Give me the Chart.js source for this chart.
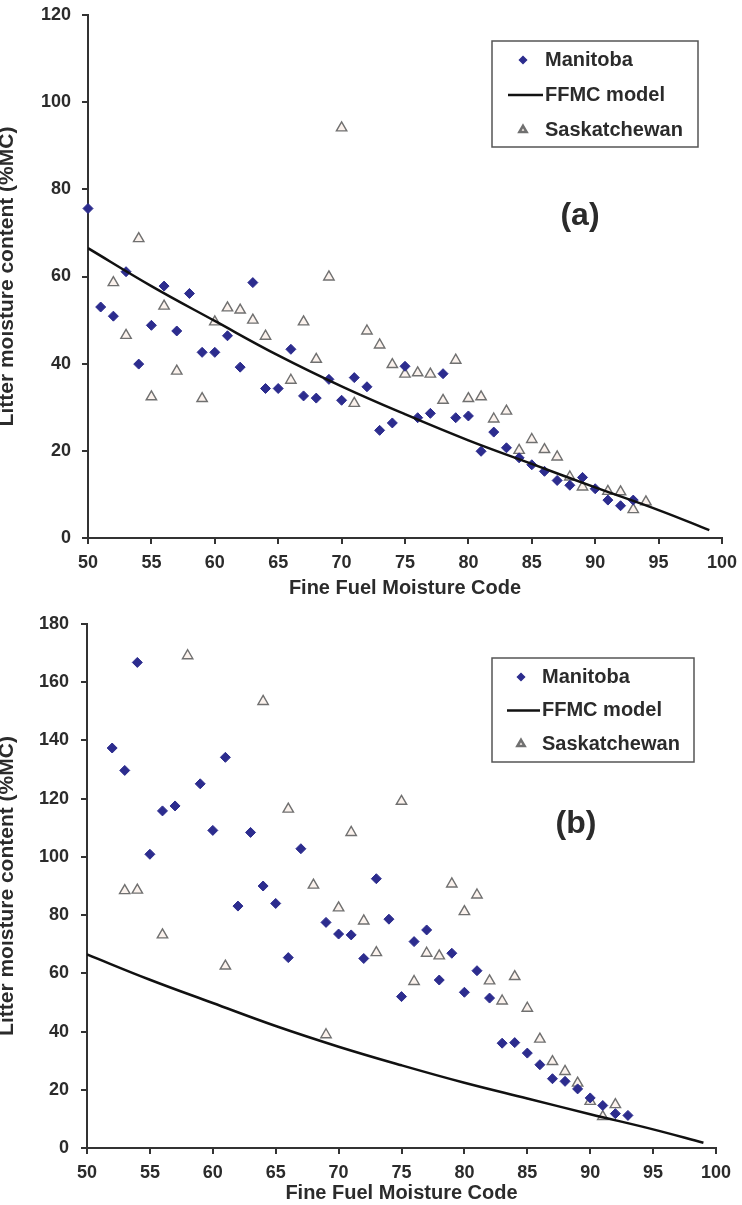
<!DOCTYPE html>
<html>
<head>
<meta charset="utf-8">
<script src="https://cdn.jsdelivr.net/npm/chart.js@4.4.1/dist/chart.umd.min.js"></script>
<style>
  body { margin: 0; background: #fff; }
  .panel { position: absolute; left: 0; width: 742px; }
</style>
</head>
<body>
<div class="panel" style="top:0;height:600px"><canvas id="chartA"></canvas></div>
<div class="panel" style="top:600px;height:605px"><canvas id="chartB"></canvas></div>
<script>
// FFMC model curve
var modelX = [50, 55, 60, 65, 70, 75, 80, 85, 90, 95, 99];
var modelY = [66.5, 57.8, 49.8, 41.9, 34.8, 28.4, 22.4, 17.0, 11.6, 6.4, 1.8];

// panel (a)
var manAx = [50,51,52,53,54,55,56,57,58,59,60,61,62,63,64,65,66,67,68,69,70,71,72,73,74,75,76,77,78,79,80,81,82,83,84,85,86,87,88,89,90,91,92,93];
var manAy = [75.6,53.0,50.9,61.1,39.9,48.8,57.8,47.5,56.1,42.6,42.6,46.4,39.2,58.6,34.3,34.3,43.3,32.6,32.1,36.4,31.6,36.8,34.7,24.7,26.4,39.4,27.6,28.6,37.7,27.6,28.0,19.9,24.3,20.7,18.4,16.8,15.3,13.2,12.1,13.9,11.3,8.7,7.4,8.7];
var sasAx = [52,53,54,55,56,57,59,60,61,62,63,64,66,67,68,69,70,71,72,73,74,75,76,77,78,79,80,81,82,83,84,85,86,87,88,89,91,92,93,94];
var sasAy = [58.6,46.5,68.7,32.4,53.2,38.3,32.0,49.6,52.8,52.3,50.0,46.3,36.2,49.6,41.0,59.9,94.1,30.9,47.5,44.3,39.8,37.6,37.9,37.6,31.6,40.8,32.0,32.4,27.3,29.1,20.1,22.6,20.3,18.6,14.0,11.7,10.7,10.6,6.5,8.3];

// panel (b)
var manBx = [52,53,54,55,56,57,59,60,61,62,63,64,65,66,67,69,70,71,72,73,74,75,76,77,78,79,80,81,82,83,84,85,86,87,88,89,90,91,92,93];
var manBy = [137.4,129.7,166.8,100.9,115.8,117.5,125.1,109.1,134.2,83.1,108.4,90.0,84.0,65.4,102.8,77.5,73.5,73.2,65.1,92.5,78.6,52.0,70.9,74.9,57.7,66.9,53.5,60.9,51.5,36.0,36.2,32.6,28.6,23.8,22.9,20.3,17.2,14.6,11.8,11.2];
var sasBx = [53,54,56,58,61,64,66,68,69,70,71,72,73,75,76,77,78,79,80,81,82,83,84,85,86,87,88,89,90,91,92];
var sasBy = [88.4,88.6,73.2,169.1,62.5,153.4,116.4,90.3,38.9,82.5,108.4,78.0,67.1,119.1,57.2,66.9,66.0,90.7,81.2,86.9,57.4,50.5,58.9,48.0,37.4,29.7,26.3,22.3,16.0,10.8,14.9];

var FONT = '"Liberation Sans", Arial, sans-serif';
var INK = '#2b2b2b';

function pts(xs, ys) {
  var out = [];
  for (var i = 0; i < xs.length; i++) out.push({ x: xs[i], y: ys[i] });
  return out;
}

// legend box + panel tag drawn inside the plot
var boxLegend = {
  id: 'boxLegend',
  afterDraw: function (chart, args, o) {
    var ctx = chart.ctx;
    ctx.save();
    ctx.strokeStyle = '#555';
    ctx.lineWidth = 1.5;
    ctx.strokeRect(o.x, o.y, o.w, o.h);
    ctx.font = 'bold 20px ' + FONT;
    ctx.fillStyle = INK;
    ctx.textBaseline = 'middle';
    ctx.textAlign = 'left';
    chart.data.datasets.forEach(function (ds, i) {
      var ty = o.y + o.first + i * o.gap;
      if (ds.showLine) {
        ctx.strokeStyle = '#111';
        ctx.lineWidth = 2.5;
        ctx.beginPath();
        ctx.moveTo(o.x + o.lineFrom, ty);
        ctx.lineTo(o.x + o.textX - 2, ty);
        ctx.stroke();
      } else {
        ctx.fillStyle = ds.backgroundColor;
        ctx.strokeStyle = ds.borderColor;
        Chart.helpers.drawPoint(ctx, {
          pointStyle: ds.pointStyle,
          radius: ds.pointRadius * 0.7,
          borderWidth: ds.borderWidth,
          rotation: 0
        }, o.x + o.markX, ty);
      }
      ctx.fillStyle = INK;
      ctx.fillText(ds.label, o.x + o.textX, ty);
    });
    ctx.font = 'bold 32px ' + FONT;
    ctx.textAlign = 'center';
    ctx.fillText(o.tag, o.tagX, o.tagY);
    ctx.restore();
  }
};

function makeChart(id, cfg) {
  var datasets = [
    {
      label: 'Manitoba',
      data: pts(cfg.manX, cfg.manY),
      pointStyle: 'rectRot',
      pointRadius: 5,
      backgroundColor: '#2c2c8e',
      borderColor: '#2c2c8e',
      borderWidth: 1,
      showLine: false,
      clip: false,
      order: 2
    },
    {
      label: 'FFMC model',
      data: pts(modelX, modelY),
      showLine: true,
      borderColor: '#111',
      borderWidth: 2.5,
      pointRadius: 0,
      tension: 0.4,
      fill: false,
      order: 1
    },
    {
      label: 'Saskatchewan',
      data: pts(cfg.sasX, cfg.sasY),
      pointStyle: 'triangle',
      pointRadius: 6,
      backgroundColor: 'rgba(250,236,230,0.7)',
      borderColor: '#707070',
      borderWidth: 1.4,
      showLine: false,
      clip: false,
      order: 3
    }
  ];

  return new Chart(document.getElementById(id), {
    type: 'scatter',
    data: { datasets: datasets },
    plugins: [boxLegend],
    options: {
      responsive: true,
      maintainAspectRatio: false,
      animation: false,
      layout: { padding: { top: cfg.padTop, right: cfg.padRight, left: 0, bottom: 0 } },
      plugins: {
        legend: { display: false },
        tooltip: { enabled: false },
        boxLegend: cfg.legend
      },
      scales: {
        x: {
          type: 'linear',
          min: 50, max: 100,
          ticks: { stepSize: 5, color: INK, padding: 8, font: { family: FONT, size: 18, weight: 'bold' } },
          grid: { drawOnChartArea: false, drawTicks: true, tickLength: 6, color: '#333', lineWidth: 2 },
          border: { display: true, color: '#333', width: 2 },
          title: { display: true, text: 'Fine Fuel Moisture Code', color: INK, padding: 0,
                   font: { family: FONT, size: 20, weight: 'bold', lineHeight: 1.2 } },
          afterFit: function (s) { s.height = cfg.xH; s.paddingLeft = 0; s.paddingRight = 0; }
        },
        y: {
          type: 'linear',
          min: 0, max: cfg.yMax,
          ticks: { stepSize: 20, color: INK, padding: cfg.yPad, font: { family: FONT, size: 18, weight: 'bold' } },
          grid: { drawOnChartArea: false, drawTicks: true, tickLength: 6, color: '#333', lineWidth: 2 },
          border: { display: true, color: '#333', width: 2 },
          title: { display: true, text: 'Litter moisture content (%MC)', color: INK, padding: 0,
                   font: { family: FONT, size: 21, weight: 'bold', lineHeight: 0.65 } },
          afterFit: function (s) { s.width = cfg.yW; s.paddingTop = 0; s.paddingBottom = 0; }
        }
      }
    }
  });
}

makeChart('chartA', {
  manX: manAx, manY: manAy, sasX: sasAx, sasY: sasAy,
  yMax: 120, padTop: 15, padRight: 20, yW: 88, xH: 62, yPad: 11,
  legend: { x: 492, y: 41, w: 206, h: 106, first: 19, gap: 35, markX: 31, lineFrom: 16, textX: 53,
            tag: '(a)', tagX: 580, tagY: 216 }
});

makeChart('chartB', {
  manX: manBx, manY: manBy, sasX: sasBx, sasY: sasBy,
  yMax: 180, padTop: 24, padRight: 26, yW: 87, xH: 57, yPad: 12,
  legend: { x: 492, y: 58, w: 202, h: 104, first: 19, gap: 33.5, markX: 29, lineFrom: 15, textX: 50,
            tag: '(b)', tagX: 576, tagY: 224 }
});
</script>
</body>
</html>
